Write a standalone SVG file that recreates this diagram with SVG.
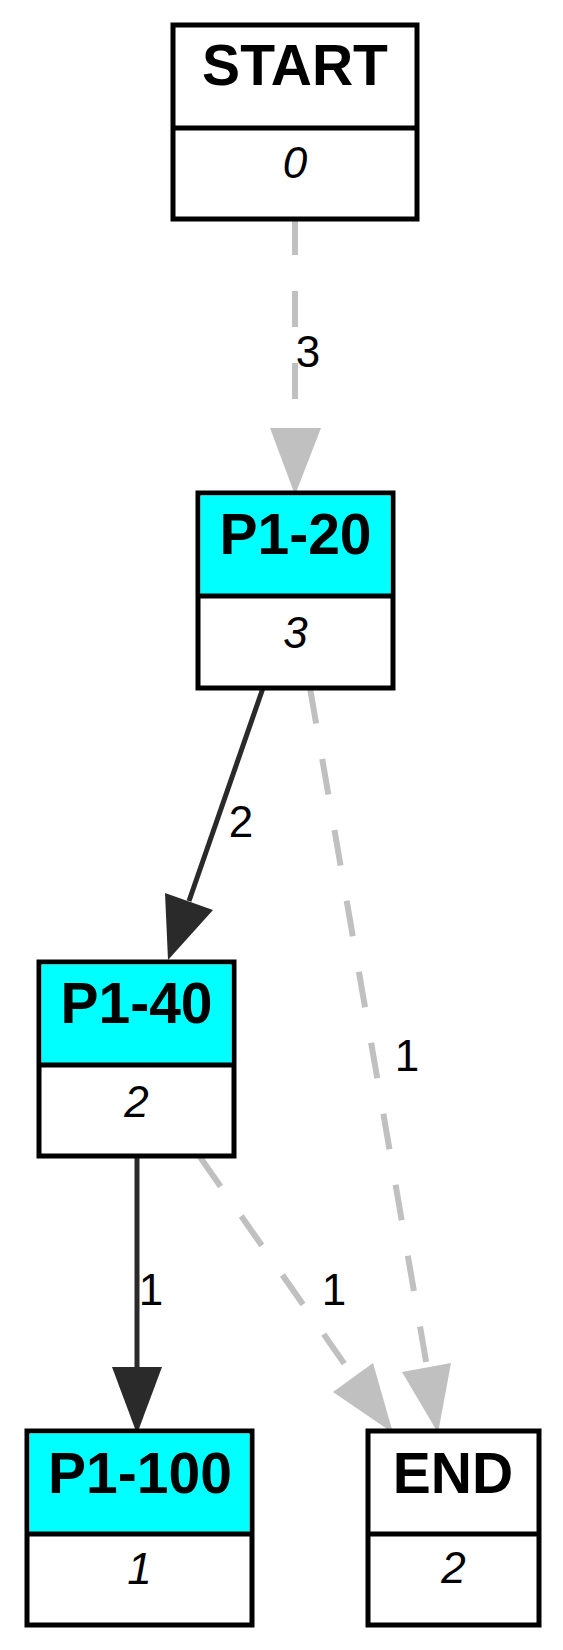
<svg xmlns="http://www.w3.org/2000/svg" width="563" height="1650" viewBox="0 0 563 1650">
<style>
.box{fill:#ffffff;stroke:#000000;stroke-width:5}
.hdr{fill:#00ffff;stroke:none}
.div{stroke:#000000;stroke-width:5}
.title{font-family:"Liberation Sans",Arial,sans-serif;font-weight:bold;font-size:57px;text-anchor:middle;fill:#000000}
.count{font-family:"Liberation Sans",Arial,sans-serif;font-style:italic;font-size:44px;text-anchor:middle;fill:#000000}
.elab{font-family:"Liberation Sans",Arial,sans-serif;font-size:44px;text-anchor:middle;fill:#000000}
.dash{fill:none;stroke:#c0c0c0;stroke-width:6;stroke-dasharray:36,36}
.solid{fill:none;stroke:#2a2a2a;stroke-width:5}
.ahg{fill:#c0c0c0;stroke:none}
.ahd{fill:#2a2a2a;stroke:none}
</style>
<rect x="0" y="0" width="563" height="1650" fill="#ffffff"/>
<g id="connectors">
  <line class="dash" x1="295" y1="219" x2="295" y2="428"/>
  <polygon class="ahg" points="270,428 321,428 295,495"/>
  <text class="elab" x="308" y="367">3</text>

  <line class="solid" x1="263" y1="688" x2="189" y2="901"/>
  <polygon class="ahd" points="165,893 213,910 168,960"/>
  <text class="elab" x="241" y="837">2</text>

  <line class="dash" x1="310" y1="688" x2="427" y2="1367"/>
  <polygon class="ahg" points="402,1372 451,1363 438,1433"/>
  <text class="elab" x="407" y="1071">1</text>

  <line class="solid" x1="137" y1="1156" x2="137" y2="1367"/>
  <polygon class="ahd" points="112,1367 162,1367 137,1434"/>
  <text class="elab" x="151" y="1305">1</text>

  <line class="dash" x1="200" y1="1157" x2="355" y2="1379"/>
  <polygon class="ahg" points="333,1392 373,1363 393,1433"/>
  <text class="elab" x="334" y="1305">1</text>
</g>
<g id="START">
  <rect class="box" x="173" y="25" width="244" height="194"/>
  <line class="div" x1="173" y1="128" x2="417" y2="128"/>
  <text class="title" x="295" y="85">START</text>
  <text class="count" x="295" y="178">0</text>
</g>
<g id="P1-20">
  <rect class="box" x="198" y="493" width="195" height="195"/>
  <rect class="hdr" x="200.5" y="495.5" width="190" height="100.5"/>
  <line class="div" x1="198" y1="596" x2="393" y2="596"/>
  <text class="title" x="295.5" y="554">P1-20</text>
  <text class="count" x="295.5" y="648">3</text>
</g>
<g id="P1-40">
  <rect class="box" x="39" y="962" width="195" height="194"/>
  <rect class="hdr" x="41.5" y="964.5" width="190" height="100.5"/>
  <line class="div" x1="39" y1="1065" x2="234" y2="1065"/>
  <text class="title" x="136.5" y="1023">P1-40</text>
  <text class="count" x="136.5" y="1117">2</text>
</g>
<g id="P1-100">
  <rect class="box" x="27" y="1431" width="225" height="194"/>
  <rect class="hdr" x="29.5" y="1433.5" width="220" height="100.5"/>
  <line class="div" x1="27" y1="1534" x2="252" y2="1534"/>
  <text class="title" x="140" y="1493">P1-100</text>
  <text class="count" x="139.5" y="1584">1</text>
</g>
<g id="END">
  <rect class="box" x="368" y="1431" width="171" height="194"/>
  <line class="div" x1="368" y1="1534" x2="539" y2="1534"/>
  <text class="title" x="453" y="1493">END</text>
  <text class="count" x="453.5" y="1583">2</text>
</g>
</svg>
